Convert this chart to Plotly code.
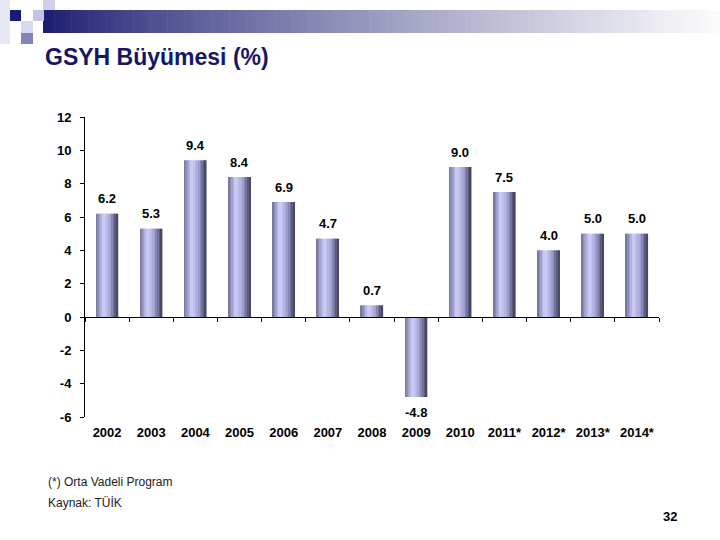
import plotly.graph_objects as go

years = ["2002", "2003", "2004", "2005", "2006", "2007", "2008", "2009",
         "2010", "2011*", "2012*", "2013*", "2014*"]
growth = [6.2, 5.3, 9.4, 8.4, 6.9, 4.7, 0.7, -4.8, 9.0, 7.5, 4.0, 5.0, 5.0]
y_ticks = [-6, -4, -2, 0, 2, 4, 6, 8, 10, 12]
y_tick_text = [str(v) for v in y_ticks]

W, H = 720, 540
L, R, T, B = 85, 61, 117, 123
PW, PH = W - L - R, H - T - B

def px_x(p):
    return (p - L) / PW

def px_y(p):
    return 1 - (p - T) / PH

fig = go.Figure()

# cylinder-like shading of bars: thin slices with varying colours
stops = [(0.0, (110, 110, 150)), (0.35, (208, 208, 252)), (0.65, (165, 165, 215)), (1.0, (60, 60, 90))]

def shade(t):
    for (t0, c0), (t1, c1) in zip(stops, stops[1:]):
        if t0 <= t <= t1:
            f = (t - t0) / (t1 - t0)
            return "rgb(%d,%d,%d)" % tuple(round(a + (b - a) * f) for a, b in zip(c0, c1))
    return "rgb(%d,%d,%d)" % stops[-1][1]

BW = 0.5
N = 14
sw = BW / N
for i in range(N):
    fig.add_trace(go.Bar(
        x=years, y=growth, width=sw * 1.08, offset=-BW / 2 + i * sw,
        marker=dict(color=shade((i + 0.5) / N), line=dict(width=0)),
        hoverinfo="skip", showlegend=False,
    ))

# invisible trace for the axis drawn at zero
fig.add_trace(go.Scatter(x=years, y=[0] * len(years), xaxis="x2", mode="markers",
                         marker=dict(opacity=0), hoverinfo="skip", showlegend=False))

# value labels (category index used as x position)
for idx, v in enumerate(growth):
    fig.add_annotation(x=idx, y=v, text="%.1f" % v, showarrow=False,
                       yanchor="middle", yshift=15 if v >= 0 else -15,
                       font=dict(family="Arial, Liberation Sans", size=13, color="black", weight="bold"))

# header decoration: gradient band
steps = 120
x0, x1 = 43, 720
for i in range(steps):
    a = x0 + (x1 - x0) * i / steps
    b = x0 + (x1 - x0) * (i + 1) / steps
    f = ((i + 0.5) / steps) ** 0.8
    c0 = (26, 26, 112)
    col = "rgb(%d,%d,%d)" % tuple(round(c + (252 - c) * f) for c in c0)
    fig.add_shape(type="rect", xref="paper", yref="paper",
                  x0=px_x(a), x1=px_x(b) + 0.001, y0=px_y(33), y1=px_y(10),
                  fillcolor=col, line=dict(width=0), layer="above")

squares = [
    (0, 0, 10, 44, "#e8e8f4"),
    (10, 10, 21, 21, "#1c1c78"),
    (33, 10, 44, 21, "#c4c4e2"),
    (43, 0, 55, 10, "#d0d0e8"),
    (21, 21, 33, 33, "#d8d8ec"),
    (21, 33, 33, 44, "#8484bc"),
]
for sx0, sy0, sx1, sy1, c in squares:
    fig.add_shape(type="rect", xref="paper", yref="paper",
                  x0=px_x(sx0), x1=px_x(sx1), y0=px_y(sy1), y1=px_y(sy0),
                  fillcolor=c, line=dict(width=0), layer="above")

# title and notes
fig.add_annotation(xref="paper", yref="paper", x=px_x(43), y=px_y(57), xanchor="left", yanchor="middle",
                   text="GSYH Büyümesi (%)", showarrow=False,
                   font=dict(family="Arial, Liberation Sans", size=23, color="#161666", weight="bold"))
fig.add_annotation(xref="paper", yref="paper", x=px_x(46), y=px_y(482), xanchor="left", yanchor="middle",
                   text="(*) Orta Vadeli Program", showarrow=False,
                   font=dict(family="Arial, Liberation Sans", size=12, color="#222222"))
fig.add_annotation(xref="paper", yref="paper", x=px_x(46), y=px_y(503), xanchor="left", yanchor="middle",
                   text="Kaynak: TÜİK", showarrow=False,
                   font=dict(family="Arial, Liberation Sans", size=12, color="#222222"))
fig.add_annotation(xref="paper", yref="paper", x=px_x(670), y=px_y(516), xanchor="center", yanchor="middle",
                   text="32", showarrow=False,
                   font=dict(family="Arial, Liberation Sans", size=13, color="black", weight="bold"))

axis_font = dict(family="Arial, Liberation Sans", size=13, color="black", weight="bold")

fig.update_layout(
    width=W, height=H,
    margin=dict(l=L, r=R, t=T, b=B),
    paper_bgcolor="white", plot_bgcolor="white",
    barmode="overlay", showlegend=False,
    xaxis=dict(type="category", categoryorder="array", categoryarray=years,
               range=[-0.5, len(years) - 0.5], showline=False, showgrid=False, zeroline=False,
               ticks="", tickfont=axis_font, ticklabelstandoff=6, fixedrange=True),
    xaxis2=dict(type="category", categoryorder="array", categoryarray=years,
                overlaying="x", matches="x", anchor="free", position=6 / 18,
                showline=True, linecolor="black", linewidth=1, showgrid=False, zeroline=False,
                ticks="outside", ticklen=4, tickcolor="black", tickson="boundaries",
                showticklabels=False),
    yaxis=dict(range=[-6, 12], tickvals=y_ticks, ticktext=y_tick_text, showline=True,
               linecolor="black", linewidth=1,
               ticks="outside", ticklen=4, tickcolor="black", showgrid=False, zeroline=False,
               tickfont=axis_font, ticklabelstandoff=6),
)

fig.write_html("out.html", config={"displayModeBar": False},
               post_script="document.body.style.margin='0';")
